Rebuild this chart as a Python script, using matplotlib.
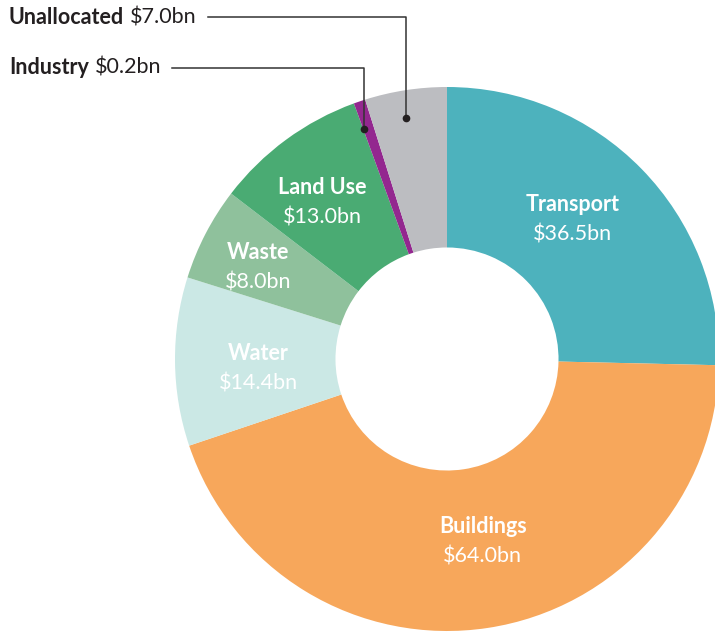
import numpy as np
import matplotlib
matplotlib.use("Agg")
import matplotlib.pyplot as plt

# spending by sector, $bn (clockwise from 12 o'clock)
sectors = ["Transport", "Buildings", "Water", "Waste", "Land Use", "Industry", "Unallocated"]
values = [36.5, 64.0, 14.4, 8.0, 13.0, 0.2, 7.0]
colors = ["#4db2bd", "#f7a75b", "#cbe8e5", "#8fc19c", "#4aab73", "#93278f", "#bcbdc1"]

# sectors labelled outside the ring with a leader line
callouts = ["Unallocated", "Industry"]

plt.rcParams["font.family"] = ["Lato", "DejaVu Sans"]

W, H = 715, 633
fig = plt.figure(figsize=(W / 100, H / 100), dpi=100)
ax = fig.add_axes([0, 0, 1, 1])

# tiny slices get a minimum width so they stay visible
drawn = np.maximum(values, 1.0)
wedges, _ = ax.pie(drawn, colors=colors, startangle=90, counterclock=False,
                   radius=1.0, wedgeprops=dict(width=0.59, linewidth=0))

# map to pixel layout: centre at (447, 359), outer radius 272 px
R = 272.0
cx, cy = 447.0, 359.0
ax.set_xlim(-cx / R, (W - cx) / R)
ax.set_ylim(-(H - cy) / R, cy / R)
ax.set_aspect("equal")
ax.axis("off")

# (radius, angle nudge in degrees) for the in-ring labels
label_pos = {"Transport": (0.69, 3.5), "Buildings": (0.685, 2.4), "Water": (0.695, 2.4),
             "Waste": (0.772, 1.5), "Land Use": (0.735, 2.2)}

FS = 15.5
for w, name, val in zip(wedges, sectors, values):
    if name in callouts:
        continue
    r, nudge = label_pos[name]
    mid = np.deg2rad((w.theta1 + w.theta2) / 2 + nudge)
    x, y = r * np.cos(mid), r * np.sin(mid)
    ax.text(x, y + 0.055, name, ha="center", va="center", color="white",
            fontsize=FS, fontweight="bold")
    ax.text(x, y - 0.055, "$%.1fbn" % val, ha="center", va="center", color="white",
            fontsize=FS)

# leader lines for the small slices
fig.canvas.draw()
renderer = fig.canvas.get_renderer()
text_y = {"Unallocated": 17, "Industry": 68}
for w, name, val in zip(wedges, sectors, values):
    if name not in callouts:
        continue
    mid = np.deg2rad((w.theta1 + w.theta2) / 2 + 1.0)
    px, py = 0.9 * np.cos(mid), 0.9 * np.sin(mid)
    ty = (cy - text_y[name]) / R
    tx = (9 - cx) / R
    t1 = ax.text(tx, ty, name, ha="left", va="center", color="#231f20",
                 fontsize=FS, fontweight="bold")
    bb = t1.get_window_extent(renderer)
    x2 = ax.transData.inverted().transform((bb.x1 + 6, 0))[0]
    t2 = ax.text(x2, ty, "$%.1fbn" % val, ha="left", va="center", color="#231f20",
                 fontsize=FS)
    bb2 = t2.get_window_extent(renderer)
    x3 = ax.transData.inverted().transform((bb2.x1 + 11, 0))[0]
    ax.plot([x3, px, px], [ty, ty, py], color="#333333", lw=1.1)
    ax.plot(px, py, "o", color="#231f20", ms=4.5)

fig.savefig("out.png", dpi=100, facecolor="white")
